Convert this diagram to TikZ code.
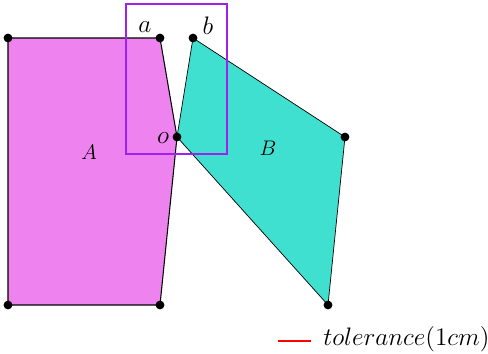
\documentclass[tikz,border=0pt]{standalone}
\usetikzlibrary{positioning}
\definecolor{violetfill}{RGB}{238,130,238}
\definecolor{turqfill}{RGB}{64,224,208}
\definecolor{boxpurple}{RGB}{160,32,240}

\begin{document}
\begin{tikzpicture}[x=0.02cm, y=-0.02cm, dot/.style={circle, fill=black, inner sep=0pt, minimum size=5pt}]
\useasboundingbox (0,0) rectangle (488,353);
% vertices
\coordinate (p1) at (8,38);
\coordinate (a) at (160,38);
\coordinate (o) at (177,137);
\coordinate (p4) at (160,305);
\coordinate (p5) at (8,305);
\coordinate (b) at (193,38);
\coordinate (q2) at (345,137);
\coordinate (q3) at (328,305);
% polygons
\filldraw[fill=violetfill, draw=black, semithick] (p1) -- (a) -- (o) -- (p4) -- (p5) -- cycle;
\filldraw[fill=turqfill, draw=black] (b) -- (q2) -- (q3) -- (o) -- cycle;
\draw[boxpurple, semithick] (126,4) rectangle (227,154);
% dots
\foreach \p in {p1,a,o,p4,p5,b,q2,q3}
  \node[dot] at (\p) {};
\node[font=\Large] at (145,27) {$a$};
\node[font=\Large] at (208,26) {$b$};
\node[font=\Large] at (163,138) {$o$};
\node[font=\large] at (89,152) {$A$};
\node[font=\large] at (268,148) {$B$};
% legend
\coordinate (l1) at (278,341);
\coordinate (l2) at (311,341);
\draw[red, semithick] (l1) -- (l2);
\node[anchor=west, font=\Large, inner sep=0pt] (tol) at (323,339) {$tolerance(1cm)$};
\end{tikzpicture}
\end{document}
